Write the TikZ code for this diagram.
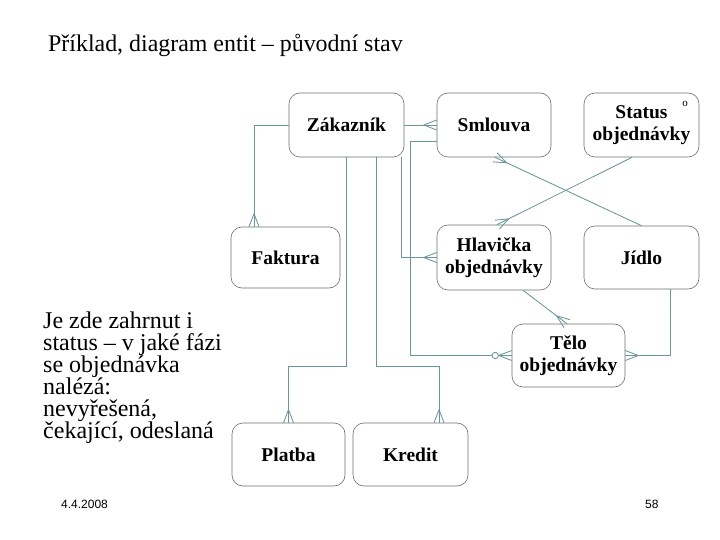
\documentclass[tikz,border=0pt]{standalone}
\usepackage{fontspec}
\setmainfont{Liberation Serif}
\newfontfamily\footfont{Liberation Sans}
\usetikzlibrary{calc}
\definecolor{lc}{RGB}{105,150,155}
\definecolor{bc}{RGB}{110,110,110}
% crow's foot at #1, line coming from direction of #2
\newcommand{\crowT}[2]{%
  \draw[conn] ($(#1)!13pt!(#2)$) -- ($(#1)!5pt!90:(#2)$);
  \draw[conn] ($(#1)!13pt!(#2)$) -- ($(#1)!5pt!-90:(#2)$);}
\begin{document}
\begin{tikzpicture}[x=1pt,y=-1pt,
  ent/.style={draw=bc, rounded corners=11pt, line width=0.6pt,
    font=\fontsize{19.5}{22}\selectfont\bfseries, align=center, inner sep=0pt},
  conn/.style={draw=lc, line width=0.85pt},
  plain/.style={inner sep=0pt, anchor=base west}]
\useasboundingbox (0,0) rectangle (720,540);

% entities
\node[ent, minimum width=115pt, minimum height=64pt] (zak) at (346.5,125) {Zákazník};
\node[ent, minimum width=114pt, minimum height=64pt] (sml) at (494,125) {Smlouva};
\node[ent, minimum width=115pt, minimum height=64pt] (sta) at (641.5,125) {Status\\objednávky};
\node[ent, minimum width=109pt, minimum height=61pt] (fak) at (285.5,257.5) {Faktura};
\node[ent, minimum width=114pt, minimum height=65pt] (hla) at (494,257.5) {Hlavička\\objednávky};
\node[ent, minimum width=115pt, minimum height=63pt] (jid) at (641.5,257.5) {Jídlo};
\node[ent, minimum width=113pt, minimum height=63pt] (tel) at (568.5,355.5) {Tělo\\objednávky};
\node[ent, minimum width=113pt, minimum height=63pt] (pla) at (288.5,454.5) {Platba};
\node[ent, minimum width=115pt, minimum height=63pt] (kre) at (410.5,454.5) {Kredit};
\node[font=\fontsize{11}{11}\selectfont, inner sep=0pt] (deg) at (685,104) {o};

% helper coordinates
\coordinate (fakIn) at ([xshift=-31.5pt]fak.north);
\coordinate (hs) at ([xshift=-3pt]zak.south east);
\coordinate (ss) at ([yshift=-16pt]sml.west);
\coordinate (sb) at ([xshift=-26pt]ss);
\coordinate (zb) at ([yshift=-209pt]zak.south);
\coordinate (zk) at ([xshift=29.5pt]zak.south);
\coordinate (zkb) at ([yshift=-209pt]zk);
\coordinate (kin) at ([xshift=28.5pt]kre.north);
\coordinate (smB) at ([xshift=1pt]sml.south);
\coordinate (stB) at ([xshift=-9.5pt]sta.south);
\coordinate (hlT) at ([xshift=3pt]hla.north);
\coordinate (hlB) at ([xshift=29pt]hla.south);
\coordinate (teT) at ([xshift=-1.5pt]tel.north);
\coordinate (jdB) at ([xshift=28.5pt]jid.south);

% connectors
\draw[conn] (zak.west) -| (fakIn);
\crowT{fakIn}{fakIn |- zak.west}
\draw[conn] (zak.east) -- (sml.west);
\crowT{sml.west}{zak.east}
\draw[conn] (hs) |- (hla.west);
\crowT{hla.west}{hs |- hla.west}
\draw[conn] (ss) -- (sb) |- ($(tel.west)!16.5pt!(sb |- tel.west)+(-3.2,0)$);
\draw[conn] ($(tel.west)!13.3pt!(sb |- tel.west)$) -- (tel.west);
\draw[conn] ($(tel.west)!16.5pt!(sb |- tel.west)$) circle[radius=3.2pt];
\crowT{tel.west}{sb |- tel.west}
\draw[conn] (zak.south) -- (zb) -| (pla.north);
\crowT{pla.north}{zb -| pla.north}
\draw[conn] (zk) -- (zkb) -| (kin);
\crowT{kin}{zkb -| kin}
\draw[conn] (smB) -- (jid.north);
\crowT{smB}{jid.north}
\draw[conn] (stB) -- (hlT);
\crowT{hlT}{stB}
\draw[conn] (hlB) -- (teT);
\crowT{teT}{hlB}
\draw[conn] (jdB) |- (tel.east);
\crowT{tel.east}{jdB |- tel.east}

% texts
\node[plain, font=\fontsize{23.9}{24}\selectfont] (title) at (48,52) {Příklad, diagram entit – původní stav};
\node[plain, align=left, font=\fontsize{24}{22}\selectfont] (note) at (43,438)
  {Je zde zahrnut i\\status – v jaké fázi\\se objednávka\\nalézá:\\nevyřešená,\\čekající, odeslaná};
\node[plain, font=\footfont\fontsize{12}{12}\selectfont] (date) at (61,508) {4.4.2008};
\node[plain, font=\footfont\fontsize{12}{12}\selectfont] (page) at (645,508) {58};
\end{tikzpicture}
\end{document}
